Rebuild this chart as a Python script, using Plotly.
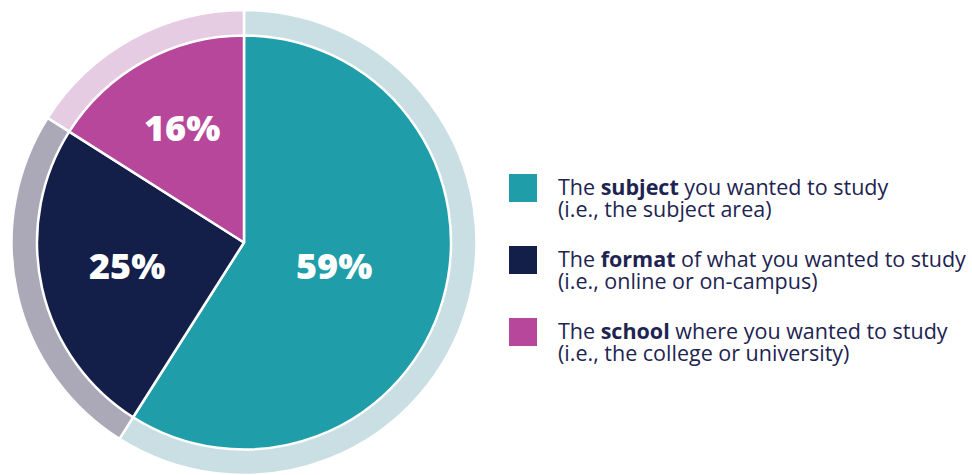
import math
import plotly.graph_objects as go

# Survey shares: what mattered most when choosing where to study
categories = ["subject", "format", "school"]
shares = [59, 25, 16]
legend_line1 = [
    ("The ", "subject", " you wanted to study"),
    ("The ", "format", " of what you wanted to study"),
    ("The ", "school", " where you wanted to study"),
]
legend_line2 = [
    "(i.e., the subject area)",
    "(i.e., online or on-campus)",
    "(i.e., the college or university)",
]

# Styling
main_colors = ["#1f9eaa", "#141f49", "#b7479a"]
ring_colors = ["#c9dfe3", "#aba9b8", "#e6cce2"]
text_color = "#1d2451"
font_family = "Open Sans"

W, H = 972, 475
cx, cy = 244, 242.5          # pie centre in pixels (from top-left)
r_outer, r_inner = 232.5, 207

def dom(r):
    return dict(
        x=[(cx - r) / W, (cx + r) / W],
        y=[(H - cy - r) / H, (H - cy + r) / H],
    )

fig = go.Figure()

# Pale outer ring: a slightly larger pie drawn behind the main one
fig.add_trace(go.Pie(
    labels=categories, values=shares, sort=False, direction="clockwise",
    rotation=0, domain=dom(r_outer), textinfo="none", hoverinfo="skip",
    marker=dict(colors=ring_colors, line=dict(color="white", width=2.5)),
    showlegend=False,
))

# Main pie
fig.add_trace(go.Pie(
    labels=categories, values=shares, sort=False, direction="clockwise",
    rotation=0, domain=dom(r_inner), textinfo="none",
    marker=dict(colors=main_colors, line=dict(color="white", width=2.5)),
    showlegend=False,
))

# Percentage labels placed along each slice's mid-angle
label_radius = [0.455, 0.58, 0.62]
total = sum(shares)
start = 0.0
annotations = []
for v, rf in zip(shares, label_radius):
    mid = (start + v / 2) / total * 2 * math.pi
    start += v
    px = cx + math.sin(mid) * r_inner * rf
    py = cy - math.cos(mid) * r_inner * rf
    annotations.append(dict(
        x=px / W, y=1 - py / H, xref="paper", yref="paper",
        text=f"{v}%", showarrow=False, yshift=3,
        font=dict(family=font_family, size=36, color="white", weight=800),
        xanchor="center", yanchor="middle",
    ))

# Custom legend: colour squares with two-line captions
shapes = []
sq_x0, sq_size = 509, 28
text_x = 556
for i, col in enumerate(main_colors):
    top = 174 + i * 72
    shapes.append(dict(
        type="rect", xref="paper", yref="paper",
        x0=sq_x0 / W, x1=(sq_x0 + sq_size) / W,
        y0=1 - (top + sq_size) / H, y1=1 - top / H,
        fillcolor=col, line=dict(width=0),
    ))
    pre, bold, post = legend_line1[i]
    annotations.append(dict(
        x=text_x / W, y=1 - (top + 12) / H, xref="paper", yref="paper",
        text=f"{pre}<b>{bold}</b>{post}", showarrow=False,
        font=dict(family=font_family, size=21.5, color=text_color),
        xanchor="left", yanchor="middle",
    ))
    annotations.append(dict(
        x=text_x / W, y=1 - (top + 34) / H, xref="paper", yref="paper",
        text=legend_line2[i], showarrow=False,
        font=dict(family=font_family, size=21.5, color=text_color),
        xanchor="left", yanchor="middle",
    ))

fig.update_layout(
    width=W, height=H,
    margin=dict(l=0, r=0, t=0, b=0),
    paper_bgcolor="white", plot_bgcolor="white",
    annotations=annotations, shapes=shapes,
    font=dict(family=font_family),
)

fig.write_html("out.html")
